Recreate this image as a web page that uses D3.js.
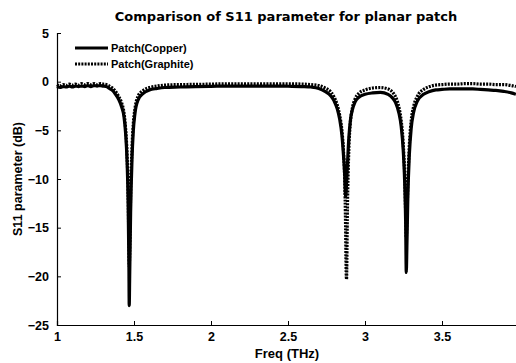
<!DOCTYPE html>
<html><head><meta charset="utf-8">
<script src="https://cdn.jsdelivr.net/npm/d3@7"></script>
<style>body{margin:0;background:#fff}svg{display:block}text{font-family:"Liberation Sans",Arial,sans-serif;font-weight:bold;fill:#000}</style>
</head><body><svg id="c" width="516" height="363"></svg>
<script>
const freq = [1.00,1.02,1.04,1.06,1.08,1.10,1.12,1.14,1.16,1.18,1.20,1.22,1.24,1.26,1.28,1.30,1.32,1.34,1.36,1.38,1.40,1.42,1.435,1.445,1.455,1.462,1.467,1.469,1.472,1.478,1.487,1.495,1.506,1.526,1.56,1.60,1.65,1.70,1.80,1.90,2.00,2.10,2.20,2.30,2.40,2.50,2.60,2.65,2.70,2.74,2.78,2.80,2.82,2.835,2.85,2.86,2.868,2.874,2.877,2.880,2.886,2.895,2.905,2.918,2.935,2.96,3.00,3.05,3.10,3.15,3.18,3.20,3.22,3.235,3.248,3.258,3.264,3.268,3.272,3.278,3.288,3.30,3.315,3.34,3.38,3.42,3.46,3.50,3.55,3.60,3.65,3.70,3.75,3.80,3.85,3.90,3.95,3.98];
const s11Copper = [-0.5,-0.6,-0.5,-0.55,-0.45,-0.55,-0.45,-0.5,-0.45,-0.5,-0.4,-0.5,-0.4,-0.45,-0.4,-0.45,-0.5,-0.7,-0.9,-1.3,-1.8,-2.6,-3.6,-5.2,-8.2,-12.5,-19,-23,-20,-13.5,-8,-5.2,-3.3,-1.9,-1.2,-0.85,-0.7,-0.6,-0.55,-0.5,-0.48,-0.45,-0.45,-0.45,-0.45,-0.47,-0.5,-0.55,-0.7,-1.0,-1.5,-2.0,-2.8,-3.8,-5.5,-7.5,-9.5,-11.8,-11.5,-10.5,-8.5,-5.8,-4.0,-2.9,-2.1,-1.6,-1.3,-1.15,-1.1,-1.3,-1.7,-2.2,-3.2,-4.6,-7.0,-10.5,-14.5,-19.6,-17,-12,-7.5,-4.8,-3.2,-2.0,-1.3,-1.0,-0.85,-0.8,-0.75,-0.75,-0.75,-0.75,-0.8,-0.85,-0.9,-1.0,-1.15,-1.3];
const s11Graphite = [-0.3,-0.45,-0.3,-0.4,-0.25,-0.35,-0.25,-0.35,-0.2,-0.3,-0.2,-0.3,-0.2,-0.3,-0.2,-0.25,-0.3,-0.45,-0.65,-1.0,-1.5,-2.2,-3.2,-4.7,-7.5,-11.5,-17,-19,-17.5,-11.5,-6.8,-4.4,-2.8,-1.5,-0.9,-0.6,-0.45,-0.35,-0.3,-0.28,-0.25,-0.22,-0.22,-0.22,-0.22,-0.22,-0.25,-0.3,-0.4,-0.65,-1.1,-1.6,-2.4,-3.4,-5.0,-7.0,-10,-15,-19,-20.3,-13,-7,-4.2,-2.7,-1.8,-1.2,-0.85,-0.65,-0.6,-0.75,-1.1,-1.6,-2.6,-4.0,-6.3,-9.8,-13.5,-16,-14.5,-10.5,-6.5,-4.0,-2.6,-1.5,-0.8,-0.5,-0.35,-0.3,-0.25,-0.25,-0.2,-0.2,-0.25,-0.25,-0.3,-0.3,-0.4,-0.5];
const xTicks = [1,1.5,2,2.5,3,3.5];
const yTicks = [5,0,-5,-10,-15,-20,-25];
const seriesNames = ["Patch(Copper)","Patch(Graphite)"];

const svg = d3.select("#c");
const x = d3.scaleLinear().domain([1,4]).range([57,519]);
const y = d3.scaleLinear().domain([-25,5]).range([325,33]);

// axes
const xa = svg.append("g").attr("transform","translate(0,325)")
  .call(d3.axisBottom(x).tickValues(xTicks).tickSize(-4).tickPadding(7).tickFormat(d3.format("")));
const ya = svg.append("g").attr("transform","translate(57,0)")
  .call(d3.axisLeft(y).tickValues(yTicks).tickSize(-4).tickPadding(8).tickFormat(d3.format("")));
[xa,ya].forEach(g=>{
  g.select(".domain").attr("stroke","#000").attr("stroke-width",1.2);
  g.selectAll(".tick line").attr("stroke","#000");
  g.selectAll("text").style("font-size","12.5px").style("font-weight","bold").style("font-family","Liberation Sans, Arial, sans-serif");
});

const line = d3.line().curve(d3.curveMonotoneX).x((d,i)=>x(freq[i])).y(d=>y(d));
svg.append("path").datum(s11Copper).attr("d",line).attr("fill","none").attr("stroke","#000").attr("stroke-width",3.2);
svg.append("path").datum(s11Graphite).attr("d",line).attr("fill","none").attr("stroke","#000").attr("stroke-width",3.2).attr("stroke-dasharray","2,1.2");

// legend
const lg = svg.append("g");
seriesNames.forEach((n,i)=>{
  const yy = 48 + i*16;
  lg.append("line").attr("x1",75).attr("x2",108).attr("y1",yy).attr("y2",yy).attr("stroke","#000").attr("stroke-width",3)
    .attr("stroke-dasharray", i===1 ? "2,1.2" : null);
  lg.append("text").attr("x",111).attr("y",yy+4).style("font-size","11px").text(n);
});

svg.append("text").attr("x",286).attr("y",21).attr("text-anchor","middle").style("font-size","13px").style("font-family","DejaVu Sans, sans-serif").text("Comparison of S11 parameter for planar patch");
svg.append("text").attr("x",287).attr("y",358).attr("text-anchor","middle").style("font-size","13px").text("Freq (THz)");
svg.append("text").attr("transform","translate(22,179) rotate(-90)").attr("text-anchor","middle").style("font-size","12.5px").text("S11 parameter (dB)");
</script></body></html>
